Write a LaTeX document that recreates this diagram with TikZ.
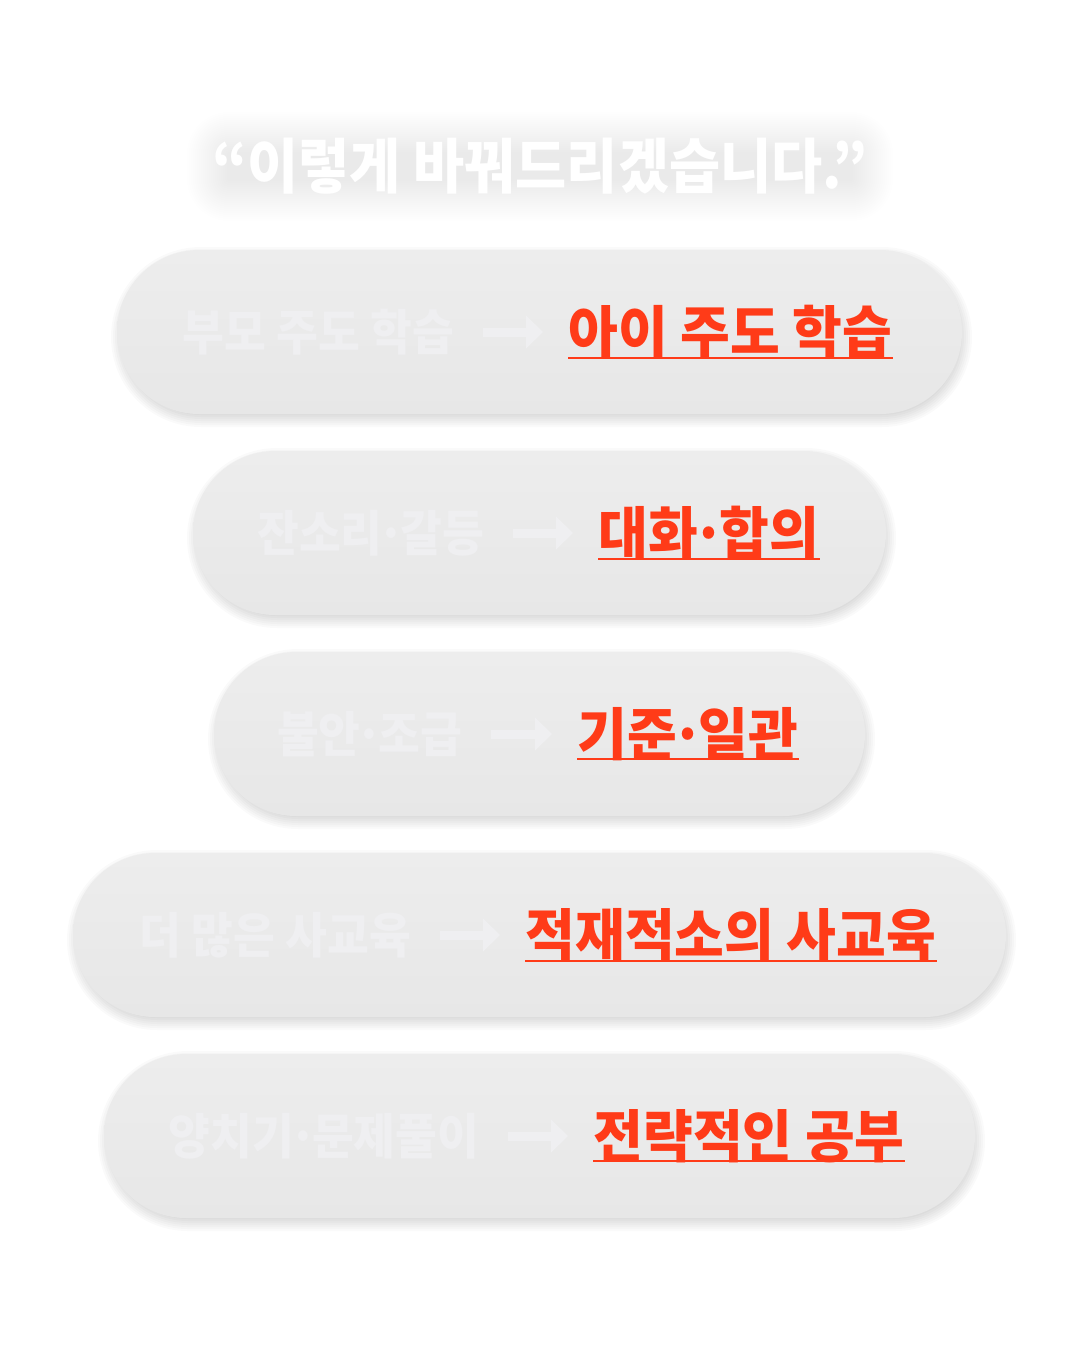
\documentclass[tikz,border=0pt]{standalone}
\usepackage{fontspec}
\usepackage{xcolor}
\usepackage{tikz}
\usetikzlibrary{positioning}
\usetikzlibrary{arrows.meta}
\newfontfamily\krred[FakeStretch=0.95]{Noto Sans CJK KR}
\newfontfamily\krgray[FakeStretch=0.93]{Noto Sans CJK KR}
\newfontfamily\krtitle[FakeStretch=0.93]{Noto Sans CJK KR}
\definecolor{pillfill}{HTML}{E7E7E7}
\definecolor{pilltop}{HTML}{EDEDED}
\definecolor{fadedtxt}{HTML}{EFEFF1}
\definecolor{hotred}{HTML}{FF3B18}
\newcommand{\mdot}{\kern-0.1em·\kern-0.1em}
\tikzset{
  mypill/.style={
    shape=rectangle,
    rounded corners=0.82cm,
    minimum height=1.64cm,
    top color=pilltop,
    bottom color=pillfill,
  },
  myshade/.style={
    shape=rectangle,
    fill=black,
    opacity=0.02,
    rounded corners=0.82cm+#1cm,
    minimum height=1.64cm+2*#1cm,
  },
  myglow/.style={
    fill=black,
    opacity=0.0035,
    rounded corners=0.14cm+#1cm,
  },
  mygray/.style={
    inner sep=0pt,
    anchor=east,
    text=fadedtxt,
    font=\krgray\bfseries\fontsize{13.9pt}{14pt}\selectfont
  },
  myred/.style={
    inner sep=0pt,
    text=hotred,
    font=\krred\bfseries\fontsize{16.2pt}{17pt}\selectfont
  },
  myarrow/.style={
    draw=fadedtxt,
    line width=0.09cm,
    -{Triangle[length=0.17cm,width=0.32cm]},
    shorten <=0.28cm,
    shorten >=0.25cm,
  },
  myline/.style={
    draw=hotred,
    line width=0.02cm,
  },
  mytitle/.style={
    inner sep=0pt,
    text=white,
    font=\krtitle\bfseries\fontsize{17pt}{18pt}\selectfont,
  },
}

\begin{document}
\begin{tikzpicture}
  \useasboundingbox [fill=white] (0,0) rectangle (10.8,-13.51);

  % soft glow behind the title
  \foreach \e in {-0.12,-0.10,...,0.28}
    \fill [myglow=\e] (2.15-\e, -1.93-\e) rectangle (8.65+\e, -1.40+\e);
  \node [mytitle] (T) at (5.4, -1.66) {“이렇게 바꿔드리겠습니다.”};

  % pills with their shadows
  \foreach \n/\y/\w in {P1/-3.32/8.45, P2/-5.33/6.93, P3/-7.34/6.51, P4/-9.35/9.33, P5/-11.36/8.71} {
    \foreach \e in {-0.06,-0.04,...,0.10}
      \node [myshade=\e, minimum width=\w cm+2*\e cm] at (5.415, \y-0.05) {};
    \node [mypill, minimum width=\w cm] (\n) at (5.395, \y) {};
  }

  \node [mygray] (G1) at (4.55, -3.32) {부모 주도 학습};
  \node [myred, right=1.13cm of G1] (R1) {아이 주도 학습};
  \draw [myarrow] (G1.east) -- (R1.west);

  \node [mygray] (G2) at (4.85, -5.33) {잔소리\mdot 갈등};
  \node [myred, right=1.13cm of G2] (R2) {대화\mdot 합의};
  \draw [myarrow] (G2.east) -- (R2.west);

  \node [mygray] (G3) at (4.63, -7.34) {불안\mdot 조급};
  \node [myred, right=1.14cm of G3] (R3) {기준\mdot 일관};
  \draw [myarrow] (G3.east) -- (R3.west);

  \node [mygray] (G4) at (4.12, -9.35) {더 많은 사교육};
  \node [myred, right=1.13cm of G4] (R4) {적재적소의 사교육};
  \draw [myarrow] (G4.east) -- (R4.west);

  \node [mygray] (G5) at (4.80, -11.36) {양치기\mdot 문제풀이};
  \node [myred, right=1.13cm of G5] (R5) {전략적인 공부};
  \draw [myarrow] (G5.east) -- (R5.west);

  % underlines
  \foreach \n in {R1,R2,R3,R4,R5}
    \draw [myline] ([yshift=0.02cm]\n.south west) -- ([yshift=0.02cm]\n.south east);
\end{tikzpicture}
\end{document}
